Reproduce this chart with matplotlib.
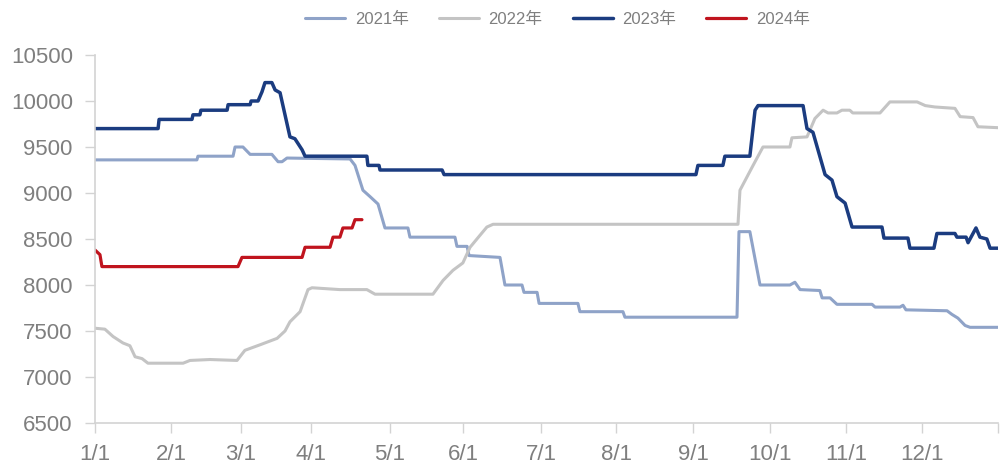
import matplotlib
matplotlib.use("Agg")
import matplotlib.pyplot as plt
from matplotlib import font_manager

# ---- data: (day index, price) vertices for each year ----
days_2021 = [0, 41.2, 41.6, 55.8, 56.6, 59.8, 62.7, 71.5, 74.0, 75.6, 77.6, 103.1, 105.1,
             108.3, 111.2, 114.4, 117.2, 126.5, 127.3, 145.5, 146.3, 150.4, 151.2, 163.7,
             165.7, 172.6, 173.4, 178.7, 179.5, 195.2, 196.0, 213.4, 214.2, 259.5, 260.3,
             264.7, 268.8, 280.9, 282.9, 285.0, 293.0, 293.9, 297.1, 299.9, 314.1, 315.3,
             325.4, 326.6, 327.8, 344.4, 346.4, 348.8, 351.7, 353.7, 365]
vals_2021 = [9360, 9360, 9400, 9400, 9500, 9500, 9420, 9420, 9340, 9340, 9380, 9370, 9300,
             9030, 8960, 8880, 8620, 8620, 8520, 8520, 8420, 8420, 8320, 8300,
             8000, 8000, 7920, 7920, 7800, 7800, 7710, 7710, 7650, 7650, 8580,
             8580, 8000, 8000, 8030, 7950, 7940, 7860, 7860, 7790, 7790, 7760,
             7760, 7780, 7730, 7720, 7680, 7640, 7560, 7540, 7540]

days_2022 = [0, 4.0, 7.3, 11.3, 14.1, 16.2, 19.0, 21.4, 35.6, 38.4, 46.5, 57.4, 60.6, 66.7,
             73.6, 76.8, 78.8, 82.9, 86.1, 87.7, 99.0, 109.9, 113.2, 136.6, 140.7, 144.7,
             148.7, 151.6, 155.6, 158.4, 160.9, 259.9, 260.7, 266.0, 270.0, 280.9, 281.7,
             287.8, 291.0, 294.3, 296.3, 299.9, 301.9, 305.1, 306.3, 317.3, 321.3, 332.3,
             335.6, 339.5, 347.6, 349.7, 354.9, 356.9, 365]
vals_2022 = [7530, 7520, 7440, 7370, 7340, 7220, 7200, 7150, 7150, 7180, 7190, 7180, 7290, 7350,
             7420, 7500, 7600, 7710, 7950, 7970, 7950, 7950, 7900, 7900, 8050, 8160,
             8240, 8410, 8540, 8630, 8660, 8660, 9030, 9300, 9500, 9500, 9600,
             9610, 9810, 9900, 9870, 9870, 9900, 9900, 9870, 9870, 9990, 9990,
             9950, 9935, 9920, 9830, 9820, 9720, 9710]

days_2023 = [0, 25.5, 25.9, 39.2, 39.6, 42.4, 42.8, 53.4, 53.8, 62.7, 63.1, 65.9, 67.5, 68.7,
             71.5, 72.8, 74.8, 78.8, 80.8, 83.7, 84.9, 109.9, 110.3, 114.8, 115.2, 140.3,
             141.1, 242.9, 243.7, 253.8, 254.6, 264.7, 266.8, 268.0, 286.2, 287.8, 290.2,
             295.1, 297.9, 299.9, 303.2, 306.0, 318.1, 318.9, 328.6, 329.4, 339.1, 340.3,
             347.6, 348.4, 352.1, 352.9, 356.1, 357.7, 360.5, 361.8, 365]
vals_2023 = [9700, 9700, 9800, 9800, 9850, 9850, 9900, 9900, 9960, 9960, 10000, 10000, 10100, 10200,
             10200, 10120, 10090, 9610, 9590, 9470, 9400, 9400, 9300, 9300, 9250, 9250,
             9200, 9200, 9300, 9300, 9400, 9400, 9900, 9950, 9950, 9700, 9660,
             9200, 9140, 8960, 8890, 8630, 8630, 8510, 8510, 8400, 8400, 8560,
             8560, 8520, 8520, 8460, 8620, 8520, 8500, 8400, 8400]

days_2024 = [0, 2.0, 2.8, 57.8, 59.4, 83.7, 84.9, 95.0, 96.2, 99.0, 100.2, 103.9, 105.1, 107.9]
vals_2024 = [8380, 8330, 8200, 8200, 8300, 8300, 8410, 8410, 8520, 8520, 8620, 8620, 8710, 8710]

series_labels = ["2021年", "2022年", "2023年", "2024年"]
series_colors = ["#8FA3C8", "#C4C4C4", "#1B3C80", "#C0141E"]
series_widths = [2.2, 2.2, 2.5, 2.3]

# month-start positions on the category axis
month_ticks = [0, 30.7, 58.9, 87.3, 119.2, 148.7, 180.3, 210.6, 241.7, 272.8, 303.6, 334.3, 365]
month_labels = ["1/1", "2/1", "3/1", "4/1", "5/1", "6/1", "7/1", "8/1", "9/1",
                "10/1", "11/1", "12/1", ""]
y_ticks = [6500, 7000, 7500, 8000, 8500, 9000, 9500, 10000, 10500]

# ---- fonts ----
available = {f.name for f in font_manager.fontManager.ttflist}
base_font = "Liberation Sans" if "Liberation Sans" in available else "DejaVu Sans"
plt.rcParams["font.family"] = [base_font, "Noto Sans CJK SC", "DejaVu Sans"]

text_color = "#7F7F7F"
axis_color = "#D3D3D3"

fig = plt.figure(figsize=(10.01, 4.73), dpi=100)
ax = fig.add_axes([95 / 1001, 50 / 473, 903 / 1001, 368 / 473])

series = [(days_2021, vals_2021), (days_2022, vals_2022),
          (days_2023, vals_2023), (days_2024, vals_2024)]
handles = []
for (x, y), lab, col, lw in zip(series, series_labels, series_colors, series_widths):
    h, = ax.plot(x, y, color=col, lw=lw, label=lab,
                 solid_joinstyle="round", solid_capstyle="round")
    handles.append(h)

ax.set_xlim(0, 365)
ax.set_ylim(6500, 10500)
ax.set_xticks(month_ticks)
ax.set_xticklabels(month_labels)
ax.set_yticks(y_ticks)
ax.set_yticklabels([str(v) for v in y_ticks])

for side in ("top", "right"):
    ax.spines[side].set_visible(False)
for side in ("left", "bottom"):
    ax.spines[side].set_color(axis_color)
    ax.spines[side].set_linewidth(1.2)

ax.tick_params(axis="y", direction="out", length=7, width=1.0, color=axis_color,
               labelsize=16, labelcolor=text_color, pad=9)
ax.tick_params(axis="x", direction="out", length=7, width=1.0, color=axis_color,
               labelsize=16, labelcolor=text_color, pad=8)
for lbl in ax.get_xticklabels() + ax.get_yticklabels():
    lbl.set_clip_on(False)

leg = fig.legend(handles=handles, loc="center", bbox_to_anchor=(557.5 / 1001, 1 - 19 / 473),
                 ncol=4, frameon=False, handlelength=2.4, handletextpad=0.6,
                 columnspacing=1.8, borderpad=0,
                 prop={"family": [base_font, "Noto Sans CJK SC", "DejaVu Sans"], "size": 12})
for t in leg.get_texts():
    t.set_color(text_color)

fig.savefig("out.png", dpi=100)
